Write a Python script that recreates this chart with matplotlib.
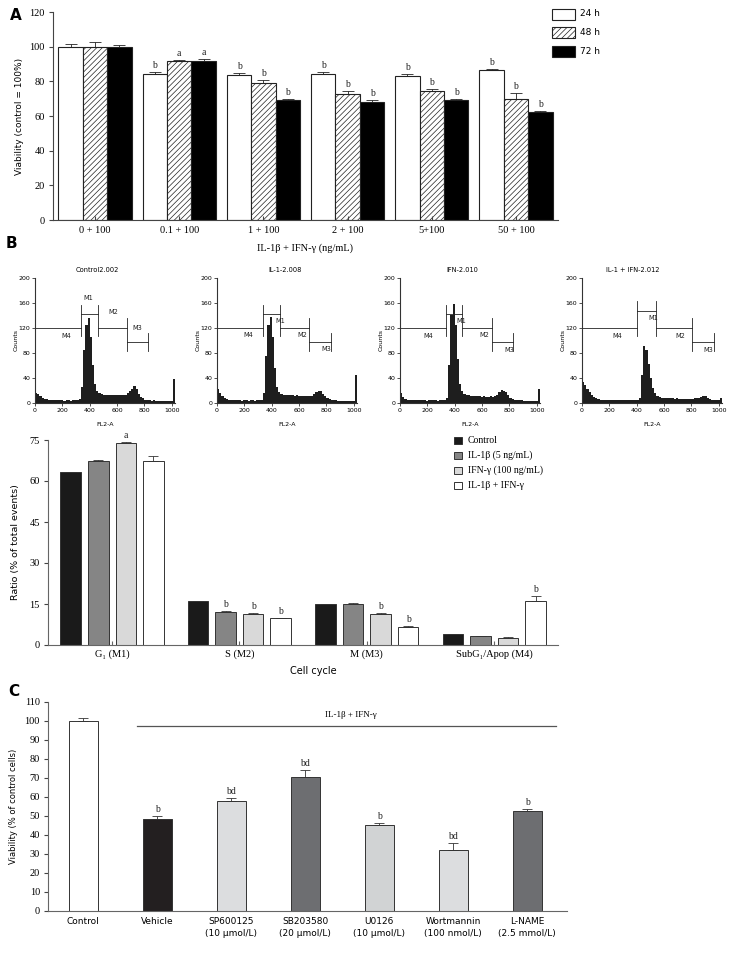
import numpy as np
import matplotlib
matplotlib.use("Agg")
import matplotlib.pyplot as plt
from matplotlib.patches import Rectangle

plt.rcParams['hatch.linewidth'] = 0.5
SERIF = ['Liberation Serif', 'DejaVu Sans']
SANS = ['DejaVu Sans']

# ---------------- data: panel A ----------------
doses = ["0 + 100", "0.1 + 100", "1 + 100", "2 + 100", "5+100", "50 + 100"]
via_24 = [100, 84, 83.5, 84, 83, 86.5]
via_48 = [100, 91.5, 79, 72.5, 74.2, 69.6]
via_72 = [100, 91.5, 69.5, 68, 69.2, 62.5]
err_24 = [1.5, 1.5, 1.2, 1.2, 1.2, 0.8]
err_48 = [2.5, 1.0, 2.0, 2.0, 1.2, 3.5]
err_72 = [1.0, 1.5, 0.5, 1.0, 0.8, 0.5]
sig_24 = ["", "b", "b", "b", "b", "b"]
sig_48 = ["", "a", "b", "b", "b", "b"]
sig_72 = ["", "a", "b", "b", "b", "b"]
times = ["24 h", "48 h", "72 h"]

# ---------------- data: panel B histograms (16-channel bins) ----------------
hist_titles = ["Control2.002", "IL-1-2.008", "IFN-2.010", "IL-1 + IFN-2.012"]
hist_control = [16, 14, 11, 8, 6, 6, 5, 5, 4, 5, 4, 4, 4, 3, 4, 4, 3, 4, 5, 5, 6,
                25, 85, 125, 135, 105, 60, 30, 18, 15, 14, 13, 12, 12, 13, 12, 13,
                12, 12, 13, 12, 13, 15, 18, 22, 26, 22, 14, 9, 7, 5, 4, 4, 3, 4, 3,
                3, 3, 3, 3, 2, 3, 3, 38]
hist_il1 = [22, 16, 10, 7, 6, 5, 5, 4, 4, 4, 4, 3, 4, 4, 3, 4, 4, 3, 4, 4, 5,
            15, 75, 125, 137, 105, 55, 25, 17, 14, 13, 12, 13, 12, 12, 11, 12,
            11, 11, 10, 11, 10, 10, 11, 14, 17, 19, 18, 14, 11, 8, 6, 5, 4, 4, 3,
            3, 3, 3, 3, 3, 3, 3, 44]
hist_ifn = [15, 9, 6, 5, 5, 4, 4, 4, 4, 4, 4, 4, 3, 4, 4, 4, 4, 3, 4, 4, 4,
            8, 60, 140, 158, 125, 70, 30, 18, 14, 12, 12, 11, 11, 10, 10, 10,
            9, 10, 9, 9, 10, 9, 10, 13, 17, 20, 18, 17, 12, 8, 6, 5, 5, 4, 4,
            3, 3, 3, 3, 3, 3, 3, 22]
hist_both = [33, 29, 22, 17, 12, 9, 7, 6, 5, 5, 5, 4, 4, 4, 4, 4, 4, 4, 4, 4, 4,
             4, 4, 4, 4, 4, 8, 45, 90, 85, 62, 40, 24, 15, 11, 9, 8, 8, 7, 7,
             7, 7, 6, 7, 6, 6, 6, 6, 6, 6, 6, 7, 7, 8, 9, 11, 10, 8, 6, 5, 5,
             4, 5, 8]
hist_edges = np.arange(0, 1025, 16)
# gate boundaries (channel): M4|M1 start, M1|M2, M2|M3, M3 end
gate_x = [[333, 462, 672, 827], [333, 462, 672, 832],
          [333, 457, 672, 827], [403, 543, 803, 968]]
gate_m1_y = [142, 142, 142, 147]
gate_labels = [
    [(388, 167), (575, 145), (748, 119), (230, 106)],
    [(460, 130), (625, 109), (798, 86), (230, 109)],
    [(447, 130), (617, 108), (798, 84), (210, 106)],
    [(524, 135), (716, 107), (926, 84), (259, 107)],
]

# ---------------- data: panel B bars ----------------
phases = ["G\u2081 (M1)", "S (M2)", "M (M3)", "SubG\u2081/Apop (M4)"]
treat_b = ["Control", "IL-1\u03b2 (5 ng/mL)", "IFN-\u03b3 (100 ng/mL)", "IL-1\u03b2 + IFN-\u03b3"]
ratio_ctrl = [63.4, 16.1, 14.9, 3.9]
ratio_il1 = [67.3, 12.2, 14.9, 3.4]
ratio_ifn = [74.0, 11.3, 11.3, 2.4]
ratio_both = [67.3, 9.8, 6.6, 16.1]
rerr_ctrl = [0, 0, 0, 0]
rerr_il1 = [0.3, 0.3, 0.3, 0]
rerr_ifn = [0.3, 0.3, 0.3, 0.6]
rerr_both = [2.0, 0, 0.3, 1.9]
rsig_ctrl = ["", "", "", ""]
rsig_il1 = ["", "b", "", ""]
rsig_ifn = ["a", "b", "b", ""]
rsig_both = ["", "b", "b", "b"]

# ---------------- data: panel C ----------------
inhib = ["Control", "Vehicle", "SP600125\n(10 \u03bcmol/L)", "SB203580\n(20 \u03bcmol/L)",
         "U0126\n(10 \u03bcmol/L)", "Wortmannin\n(100 nmol/L)", "L-NAME\n(2.5 mmol/L)"]
via_c = [100, 48.5, 57.8, 70.4, 45.2, 31.9, 52.7]
err_c = [1.4, 1.3, 1.4, 3.7, 1.2, 3.7, 0.9]
sig_c = ["", "b", "bd", "bd", "b", "bd", "b"]
col_c = ["white", "#231f20", "#dcdddf", "#6d6e71", "#d1d3d4", "#dcdddf", "#6d6e71"]

W, H = 734, 956
fig = plt.figure(figsize=(W / 100, H / 100), dpi=100)


def rect(l, t, r, b):
    return [l / W, 1 - b / H, (r - l) / W, (b - t) / H]


def ftext(x, y, s, **kw):
    fig.text(x / W, 1 - y / H, s, **kw)


def style(ax, col='#444'):
    for s in ['top', 'right']:
        ax.spines[s].set_visible(False)
    for s in ['left', 'bottom']:
        ax.spines[s].set_color(col)
        ax.spines[s].set_linewidth(0.8)


def letters(ax, xs, ys, es, labs, size=7):
    for xx, yy, ee, lab in zip(xs, ys, es, labs):
        if lab:
            ax.annotate(lab, (xx, yy + ee), xytext=(0, 1.5), textcoords='offset points',
                        ha='center', va='bottom', fontsize=size, family=SERIF, color='#222')


# ================= Panel A =================
axA = fig.add_axes(rect(53, 12, 558, 220))
style(axA)
xa = np.arange(len(doses))
wa = 0.29
seriesA = [(via_24, err_24, sig_24, 'white', None),
           (via_48, err_48, sig_48, 'white', '//////'),
           (via_72, err_72, sig_72, 'black', None)]
for i, (v, e, s, fc, h) in enumerate(seriesA):
    pos = xa + (i - 1) * wa
    axA.bar(pos, v, wa, color=fc, edgecolor='#222', hatch=h, linewidth=0.8)
    axA.errorbar(pos, v, yerr=[np.zeros(len(v)), e], fmt='none', ecolor='#222',
                 elinewidth=0.6, capsize=4, capthick=0.6)
    letters(axA, pos, v, e, s)
axA.set_xlim(-0.5, 5.5)
axA.set_ylim(0, 120)
axA.set_yticks(np.arange(0, 121, 20))
axA.set_xticks(xa)
axA.set_xticklabels(doses)
axA.tick_params(axis='x', direction='in', length=3, pad=4, labelsize=7.5,
                labelfontfamily='Liberation Serif', color='#444')
axA.tick_params(axis='y', direction='out', length=3, pad=3, labelsize=7.5,
                labelfontfamily='Liberation Serif', color='#444')
axA.set_ylabel("Viability (control = 100%)", fontsize=6.5, family=SANS, labelpad=4)
ftext(305, 248, "IL-1\u03b2 + IFN-\u03b3 (ng/mL)", fontsize=7.5, family=SERIF,
      ha='center', va='center')
ftext(10, 15, "A", fontsize=11, weight='bold', family=SANS, ha='left', va='center')
for i, (lab, fc, h) in enumerate(zip(times, ['white', 'white', 'black'], [None, '//////', None])):
    yc = 14 + i * 18.5
    fig.add_artist(Rectangle((552 / W, 1 - (yc + 5.5) / H), 23 / W, 11 / H,
                             transform=fig.transFigure, facecolor=fc, edgecolor='#222',
                             hatch=h, linewidth=0.8))
    ftext(580, yc, lab, fontsize=6.5, family=SANS, ha='left', va='center')

# ================= Panel B histograms =================
hists = [hist_control, hist_il1, hist_ifn, hist_both]
for k, left in enumerate([35, 217, 400, 582]):
    ax = fig.add_axes(rect(left, 277.7, left + 140, 402.7))
    style(ax, '#333')
    ax.stairs(hists[k], hist_edges, fill=True, color='#1e1e1e')
    ax.set_xlim(0, 1024)
    ax.set_ylim(0, 200)
    ax.set_xticks(np.arange(0, 1001, 200))
    ax.set_yticks(np.arange(0, 201, 40))
    ax.tick_params(direction='out', length=2, pad=1.5, labelsize=4.5, width=0.6, color='#333')
    ax.set_ylabel("Counts", fontsize=4.5, labelpad=0)
    ax.set_xlabel("FL2-A", fontsize=4.5, labelpad=7)
    a, b, c, d = gate_x[k]
    lk = dict(color='#222', lw=0.6, clip_on=False)
    ax.plot([0, a], [120, 120], **lk)
    ax.plot([0, 0], [105, 135], **lk)
    ax.plot([a, b], [gate_m1_y[k]] * 2, **lk)
    ax.plot([a, a], [107, 157 if k < 3 else 162], **lk)
    ax.plot([b, b], [107, 157 if k < 3 else 162], **lk)
    ax.plot([b, c], [120, 120], **lk)
    ax.plot([c, c], [82, 136], **lk)
    ax.plot([c, d], [97, 97], **lk)
    ax.plot([d, d], [82, 111], **lk)
    for name, (lx, ly) in zip(["M1", "M2", "M3", "M4"], gate_labels[k]):
        ax.text(lx, ly, name, fontsize=4.8, ha='center', va='center', color='#222')
    ax.text([457, 497, 453, 369][k], 212, hist_titles[k], fontsize=4.8, ha='center',
            va='center', clip_on=False)
ftext(6, 244, "B", fontsize=11, weight='bold', family=SANS, ha='left', va='center')

# ================= Panel B bars =================
axB = fig.add_axes(rect(48.3, 440, 558, 645))
style(axB, '#666')
xb = np.arange(len(phases))
wb, pb = 0.161, 0.216
seriesB = [(ratio_ctrl, rerr_ctrl, rsig_ctrl, '#1a1a1a'),
           (ratio_il1, rerr_il1, rsig_il1, '#858585'),
           (ratio_ifn, rerr_ifn, rsig_ifn, '#d9d9d9'),
           (ratio_both, rerr_both, rsig_both, 'white')]
for i, (v, e, s, fc) in enumerate(seriesB):
    pos = xb + (i - 1.5) * pb
    axB.bar(pos, v, wb, color=fc, edgecolor='#333', linewidth=0.7)
    axB.errorbar(pos, v, yerr=[np.zeros(len(v)), e], fmt='none', ecolor='#333',
                 elinewidth=0.6, capsize=3.5, capthick=0.6)
    letters(axB, pos, v, e, s)
axB.set_xlim(-0.5, 3.5)
axB.set_ylim(0, 75)
axB.set_yticks(np.arange(0, 76, 15))
axB.set_xticks(xb)
axB.set_xticklabels(phases, family=SERIF)
axB.tick_params(axis='x', direction='in', length=3, pad=3, labelsize=7.5, color='#666')
axB.tick_params(axis='y', direction='out', length=3, pad=3, labelsize=7.5,
                labelfontfamily='Liberation Serif', color='#444')
axB.set_ylabel("Ratio (% of total events)", fontsize=6.8, family=SANS, labelpad=7)
ftext(313, 671, "Cell cycle", fontsize=7, family=SANS, ha='center', va='center')
for i, (lab, fc) in enumerate(zip(treat_b, ['#1a1a1a', '#858585', '#d9d9d9', 'white'])):
    yc = 440.7 + i * 14.8
    fig.add_artist(Rectangle((454.3 / W, 1 - (yc + 3.6) / H), 7.4 / W, 7.2 / H,
                             transform=fig.transFigure, facecolor=fc, edgecolor='#333',
                             linewidth=0.7))
    ftext(468, yc, lab, fontsize=7, family=SERIF, ha='left', va='center')

# ================= Panel C =================
axC = fig.add_axes(rect(48.3, 701.7, 566.5, 911))
style(axC, '#666')
xc = np.arange(len(inhib))
axC.bar(xc, via_c, 0.39, color=col_c, edgecolor='#333', linewidth=0.7)
axC.errorbar(xc, via_c, yerr=[np.zeros(len(via_c)), err_c], fmt='none', ecolor='#333',
             elinewidth=0.6, capsize=3.6, capthick=0.6)
letters(axC, xc, via_c, err_c, sig_c)
axC.plot([0.73, 6.39], [97.2, 97.2], color='#555', lw=0.9)
axC.text(3.62, 103, "IL-1\u03b2 + IFN-\u03b3", fontsize=6.5, family=SERIF, ha='center', va='center')
axC.set_xlim(-0.47, 6.53)
axC.set_ylim(0, 110)
axC.set_yticks(np.arange(0, 111, 10))
axC.set_xticks(xc)
axC.set_xticklabels(inhib, linespacing=1.45)
axC.tick_params(axis='x', length=0, pad=4, labelsize=6.5)
axC.tick_params(axis='y', direction='out', length=3, pad=3, labelsize=7.5,
                labelfontfamily='Liberation Serif', color='#444')
axC.set_ylabel("Viability (% of control cells)", fontsize=6, family=SANS, labelpad=5)
ftext(8, 692, "C", fontsize=11, weight='bold', family=SANS, ha='left', va='center')

fig.savefig("out.png", dpi=100)
